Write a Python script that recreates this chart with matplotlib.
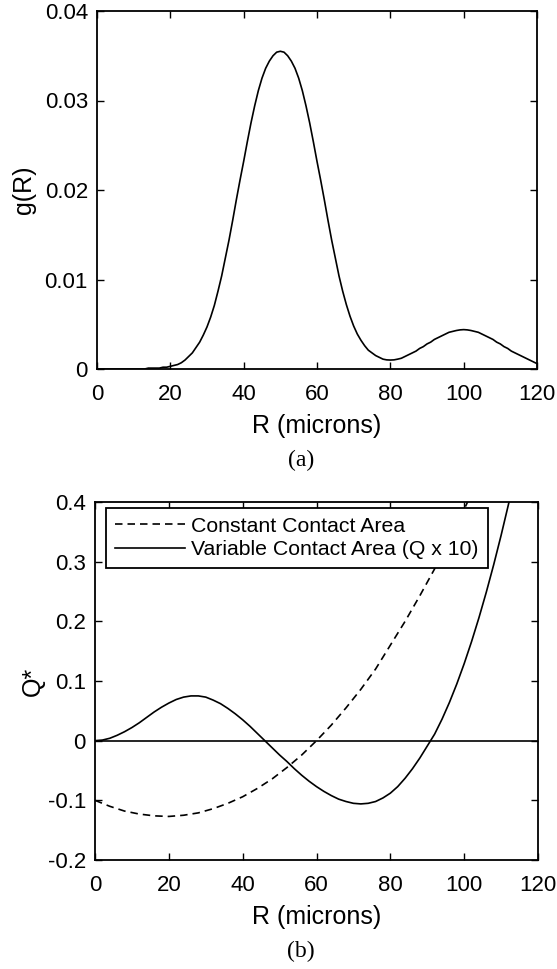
import matplotlib
matplotlib.use("Agg")
import matplotlib.pyplot as plt

plt.rcParams['font.family'] = ['Liberation Sans', 'DejaVu Sans']
plt.rcParams['axes.unicode_minus'] = False

# ---------------- data ----------------
R_g = list(range(0, 121))
g_vals = [0.0, 0.0, 0.0, 0.0, 0.0, 0.0, 0.0, 0.0, 0.0, 0.0,
          0.0, 0.0, 0.0, 0.0, 0.0001, 0.0001, 0.0001, 0.0001, 0.0002, 0.0002,
          0.0003, 0.0004, 0.0005, 0.0007, 0.0010, 0.0014, 0.0018, 0.0024, 0.0030, 0.0038,
          0.0047, 0.0058, 0.0071, 0.0087, 0.0104, 0.0124, 0.0144, 0.0166, 0.0189, 0.0211,
          0.0232, 0.0254, 0.0275, 0.0294, 0.0311, 0.0325, 0.0336, 0.0344, 0.0350, 0.0354,
          0.0355, 0.0354, 0.0350, 0.0344, 0.0336, 0.0325, 0.0311, 0.0294, 0.0275, 0.0254,
          0.0232, 0.0211, 0.0189, 0.0166, 0.0144, 0.0124, 0.0104, 0.0087, 0.0072, 0.0059,
          0.0048, 0.0039, 0.0032, 0.0026, 0.0021, 0.0018, 0.0015, 0.0013, 0.0011, 0.00102,
          0.0010, 0.00102, 0.0011, 0.0012, 0.0014, 0.0016, 0.0018, 0.0020, 0.0023, 0.0025,
          0.0028, 0.0030, 0.0033, 0.0035, 0.0037, 0.0039, 0.0041, 0.0042, 0.0043, 0.00437,
          0.0044, 0.00437, 0.0043, 0.0042, 0.0041, 0.0039, 0.0037, 0.0035, 0.0033, 0.0030,
          0.0028, 0.0025, 0.0023, 0.0020, 0.0018, 0.0016, 0.0014, 0.0012, 0.0010, 0.0008,
          0.0006]

R_var = list(range(0, 115, 2))
q_var = [0.0, 0.001, 0.004, 0.009, 0.015, 0.022, 0.030, 0.039, 0.048, 0.056,
         0.063, 0.069, 0.073, 0.075, 0.075, 0.073, 0.068, 0.062, 0.054, 0.045,
         0.035, 0.024, 0.012, 0.000, -0.012, -0.024, -0.035, -0.047, -0.058, -0.068,
         -0.077, -0.085, -0.092, -0.098, -0.102, -0.105, -0.106, -0.105, -0.102, -0.096,
         -0.088, -0.077, -0.063, -0.047, -0.029, -0.009, 0.011, 0.036, 0.064, 0.095,
         0.129, 0.166, 0.206, 0.249, 0.295, 0.344, 0.396, 0.449]

R_const = [0, 4, 8, 12, 16, 20, 24, 28, 32, 36, 40, 44, 48, 52, 56, 60, 64, 68,
           72, 76, 80, 84, 88, 92, 96, 100, 102, 104]
q_const = [-0.100, -0.110, -0.118, -0.123, -0.126, -0.127, -0.125, -0.121, -0.114,
           -0.105, -0.094, -0.080, -0.064, -0.045, -0.024, 0.000, 0.026, 0.055,
           0.086, 0.120, 0.160, 0.200, 0.243, 0.288, 0.336, 0.388, 0.414, 0.44]

x_ticks = [0, 20, 40, 60, 80, 100, 120]
g_ticks = [0, 0.01, 0.02, 0.03, 0.04]
g_tick_labels = ["0", "0.01", "0.02", "0.03", "0.04"]
q_ticks = [-0.2, -0.1, 0, 0.1, 0.2, 0.3, 0.4]
q_tick_labels = ["-0.2", "-0.1", "0", "0.1", "0.2", "0.3", "0.4"]
legend_labels = ["Constant Contact Area", "Variable Contact Area (Q x 10)"]

# ---------------- figure ----------------
W, H = 557, 969
fig = plt.figure(figsize=(W / 100, H / 100), dpi=100)

def px_axes(l, t, r, b):
    return fig.add_axes([l / W, 1 - b / H, (r - l) / W, (b - t) / H])

ax1 = px_axes(97, 11, 537, 369)
ax2 = px_axes(95, 502, 538, 860)

TICK_FS = 16
LABEL_FS = 18

for ax in (ax1, ax2):
    for sp in ax.spines.values():
        sp.set_linewidth(1.3)
    ax.tick_params(direction='in', top=True, right=True, length=5, width=1.0,
                   labelsize=TICK_FS)
    ax.tick_params(axis='x', pad=10.5)
    ax.tick_params(axis='y', pad=6.5)
    ax.set_xlim(0, 120)
    ax.set_xticks(x_ticks)
    ax.set_xticklabels([str(v) for v in x_ticks])

# top panel
ax1.plot(R_g, g_vals, color='black', lw=1.2)
ax1.set_ylim(0, 0.04)
ax1.set_yticks(g_ticks)
ax1.set_yticklabels(g_tick_labels)
ax1.set_xlabel("R (microns)", fontsize=LABEL_FS, labelpad=7)
ax1.set_ylabel("g(R)", fontsize=LABEL_FS, labelpad=6)

# bottom panel
ax2.axhline(0, color='black', lw=1.2)
l1, = ax2.plot(R_const, q_const, color='black', lw=1.2, linestyle=(0, (4.5, 3.0)))
l2, = ax2.plot(R_var, q_var, color='black', lw=1.2)
ax2.set_ylim(-0.2, 0.4)
ax2.set_yticks(q_ticks)
ax2.set_yticklabels(q_tick_labels)
ax2.set_xlabel("R (microns)", fontsize=LABEL_FS, labelpad=7)
ax2.set_ylabel("Q*", fontsize=LABEL_FS, labelpad=2)

leg = ax2.legend([l1, l2], legend_labels, loc='upper left',
                 bbox_to_anchor=((106 - 95) / 443, (860 - 508) / 358),
                 borderaxespad=0, fontsize=15.3, frameon=True, fancybox=False,
                 framealpha=1, edgecolor='black', handlelength=3.3,
                 handletextpad=0.3, labelspacing=0.2, borderpad=0.42)
leg.get_frame().set_linewidth(1.3)

# panel captions
fig.text(301 / W, 1 - 460 / H, "(a)", ha='center', va='center',
         fontsize=17, family=['Liberation Serif', 'DejaVu Serif'])
fig.text(301 / W, 1 - 951 / H, "(b)", ha='center', va='center',
         fontsize=17, family=['Liberation Serif', 'DejaVu Serif'])

fig.savefig("out.png", dpi=100, facecolor='white')
